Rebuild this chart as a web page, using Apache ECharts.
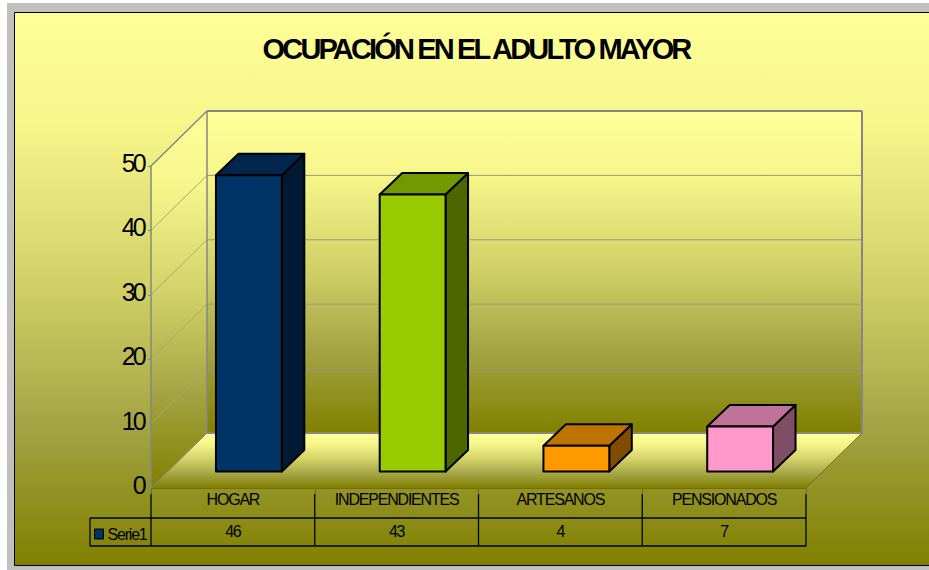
<!DOCTYPE html>
<html>
<head>
<meta charset="utf-8">
<title>Ocupación en el adulto mayor</title>
<script src="https://cdn.jsdelivr.net/npm/echarts@6/dist/echarts.min.js"></script>
<style>
    html, body { margin: 0; padding: 0; background: #fff; }
    #chart { width: 929px; height: 570px; }
    /* letras apretadas como en el original */
    #chart svg text { letter-spacing: -0.075em; }
    #chart svg text[style*="bold"] { letter-spacing: -0.098em; }
    #chart svg text[style*="25px"] { letter-spacing: -0.11em; }
</style>
</head>
<body>
<div id="chart"></div>
<script>
var categories = ['HOGAR', 'INDEPENDIENTES', 'ARTESANOS', 'PENSIONADOS'];
var serie1 = [46, 43, 4, 7];
var yTicks = [0, 10, 20, 30, 40, 50];
var seriesName = 'Serie1';
var chartTitle = 'OCUPACIÓN EN EL ADULTO MAYOR';

var barColors = ['#003366', '#99CC00', '#FF9900', '#FF99CC'];
var barTopColors = ['#00264D', '#739900', '#BF7300', '#BF7399'];
var barSideColors = ['#001A33', '#4D6600', '#804D00', '#804D66'];

// desplazamiento de la pared del fondo respecto al frente
var depthX = 56;
var depthY = 55;
// posicion del frente de la barra dentro del piso
var barDx = 16;
var barDy = 16.5;
var barDepthX = 22.5;
var barDepthY = 21.5;

var fade = [
    { offset: 0, color: '#FFFF99' },
    { offset: 0.2, color: '#F6F68B' },
    { offset: 0.5, color: '#CFCF66' },
    { offset: 0.75, color: '#A3A344' },
    { offset: 1, color: '#808000' }
];

function fadeFill() {
    return new echarts.graphic.LinearGradient(0, 0, 0, 1, fade);
}

function poly(points, fill, z2) {
    return {
        type: 'polygon',
        z2: z2 || 0,
        shape: { points: points },
        style: { fill: fill, stroke: null }
    };
}

function line(x1, y1, x2, y2, color, width) {
    return {
        type: 'line',
        shape: { x1: x1, y1: y1, x2: x2, y2: y2 },
        style: { stroke: color, lineWidth: width, fill: null }
    };
}

// paredes, piso y lineas de division
function renderWalls(params, api) {
    var r = params.coordSys;
    var left = r.x, right = r.x + r.width, top = r.y, bottom = r.y + r.height;
    var children = [
        poly([[left + depthX, top - depthY], [right + depthX, top - depthY], [right + depthX, bottom - depthY], [left + depthX, bottom - depthY]], fadeFill()),
        poly([[left, top], [left + depthX, top - depthY], [left + depthX, bottom - depthY], [left, bottom]], fadeFill()),
        poly([[left + depthX, bottom - depthY], [right + depthX, bottom - depthY], [right, bottom], [left, bottom]], fadeFill())
    ];
    yTicks.forEach(function (t) {
        if (t === 0 || t === 50) return;
        var y = api.coord([0, t])[1];
        children.push(line(left, y, left + depthX, y - depthY, '#A6A67E', 1));
        children.push(line(left + depthX, y - depthY, right + depthX, y - depthY, '#9A9A7C', 1));
    });
    children.push(line(left, top, left + depthX, top - depthY, '#868686', 1.5));
    children.push(line(left + depthX, top - depthY, right + depthX, top - depthY, '#868686', 2));
    children.push(line(left + depthX, top - depthY, left + depthX, bottom - depthY, '#868686', 1.5));
    children.push(line(right + depthX, top - depthY, right + depthX, bottom - depthY, '#868686', 2));
    children.push(line(left + depthX, bottom - depthY, right + depthX, bottom - depthY, '#868686', 2));
    children.push(line(left, bottom, left + depthX, bottom - depthY, '#868686', 1));
    children.push(line(right, bottom, right + depthX, bottom - depthY, '#6E6E14', 1));
    return { type: 'group', children: children };
}

function renderBar(params, api) {
    var i = api.value(0);
    var topPt = api.coord([i, api.value(1)]);
    var basePt = api.coord([i, 0]);
    var w = api.size([1, 0])[0] * 0.402;
    var x0 = topPt[0] + barDx - w / 2;
    var x1 = x0 + w;
    var yTop = topPt[1] - barDy;
    var yBase = basePt[1] - barDy;
    var edge = { stroke: '#000', lineWidth: 2, lineJoin: 'round' };
    return {
        type: 'group',
        children: [
            { type: 'polygon', shape: { points: [[x1, yTop], [x1 + barDepthX, yTop - barDepthY], [x1 + barDepthX, yBase - barDepthY], [x1, yBase]] }, style: Object.assign({ fill: barSideColors[i] }, edge) },
            { type: 'polygon', shape: { points: [[x0, yTop], [x0 + barDepthX, yTop - barDepthY], [x1 + barDepthX, yTop - barDepthY], [x1, yTop]] }, style: Object.assign({ fill: barTopColors[i] }, edge) },
            { type: 'rect', shape: { x: x0, y: yTop, width: w, height: yBase - yTop }, style: Object.assign({ fill: barColors[i] }, edge) }
        ]
    };
}

// tabla de datos debajo del grafico
var tableLeft = 90;
var tableGap = 6;
var rowLine = 30;
var tableBottom = 58;

function renderTable(params, api) {
    var r = params.coordSys;
    var i = api.value(0);
    var band = api.size([1, 0])[0];
    var bottom = r.y + r.height;
    var cx = api.coord([i, 0])[0];
    var children = [
        line(cx + band / 2, bottom + tableGap, cx + band / 2, bottom + tableBottom, '#000', 1.3),
        {
            type: 'text',
            style: {
                text: String(api.value(1)),
                x: cx,
                y: bottom + 43,
                align: 'center',
                verticalAlign: 'middle',
                fontSize: 16,
                fontFamily: 'Liberation Sans',
                fill: '#000'
            }
        }
    ];
    if (i === 0) {
        children.push(line(r.x, bottom + tableGap, r.x, bottom + tableBottom, '#000', 1.3));
        children.push(line(tableLeft, bottom + rowLine, r.x + r.width, bottom + rowLine, '#000', 1.3));
        children.push(line(tableLeft, bottom + tableBottom, r.x + r.width, bottom + tableBottom, '#000', 1.3));
        children.push(line(tableLeft, bottom + rowLine, tableLeft, bottom + tableBottom, '#000', 1.3));
    }
    return { type: 'group', children: children };
}

var points = serie1.map(function (v, i) { return [i, v]; });

var chart = echarts.init(document.getElementById('chart'), null, { renderer: 'svg' });
var option = {
    animation: false,
    textStyle: { fontFamily: 'Liberation Sans' },
    graphic: [
        { type: 'rect', z: -10, shape: { x: 7, y: 3, width: 922, height: 567 }, style: { fill: '#C0C0C0' } },
        { type: 'rect', z: -9, shape: { x: 14.5, y: 12.5, width: 920, height: 553 }, style: { fill: fadeFill(), stroke: '#000', lineWidth: 1 } }
    ],
    title: {
        text: chartTitle,
        left: 471,
        top: 29,
        textAlign: 'center',
        textStyle: { fontSize: 29, fontWeight: 'bold', color: '#000', fontFamily: 'Liberation Sans' }
    },
    legend: {
        data: [seriesName],
        left: 94,
        top: 526,
        itemWidth: 9,
        itemHeight: 10,
        itemGap: 3,
        padding: 0,
        icon: 'rect',
        selectedMode: false,
        itemStyle: { borderColor: '#000', borderWidth: 1 },
        textStyle: { fontSize: 16, color: '#000', padding: [0, 0, 0, -1] }
    },
    grid: { left: 151, right: 123, top: 166, bottom: 82 },
    xAxis: {
        type: 'category',
        data: categories,
        z: 5,
        axisLine: { lineStyle: { color: '#6E6E14', width: 1 } },
        axisTick: { show: true, length: 6, lineStyle: { color: '#6E6E14' } },
        axisLabel: { fontSize: 16, color: '#000', margin: 3, interval: 0, fontFamily: 'Liberation Sans' }
    },
    yAxis: {
        type: 'value',
        min: 0,
        max: 50,
        interval: 10,
        z: 5,
        splitLine: { show: false },
        axisLine: { show: true, lineStyle: { color: '#868686', width: 1.5 } },
        axisTick: { show: true, length: 3, lineStyle: { color: '#868686' } },
        axisLabel: { fontSize: 25, color: '#000', margin: 7, verticalAlign: 'bottom', lineHeight: 6, fontFamily: 'Liberation Sans' }
    },
    series: [
        { type: 'custom', name: 'paredes', z: 1, silent: true, clip: false, data: [[0, 0]], renderItem: renderWalls },
        { type: 'custom', name: 'tabla', z: 3, silent: true, clip: false, data: points, renderItem: renderTable },
        { type: 'custom', name: seriesName, z: 6, clip: false, data: points, itemStyle: { color: '#003366' }, renderItem: renderBar }
    ]
};
chart.setOption(option);
</script>
</body>
</html>
